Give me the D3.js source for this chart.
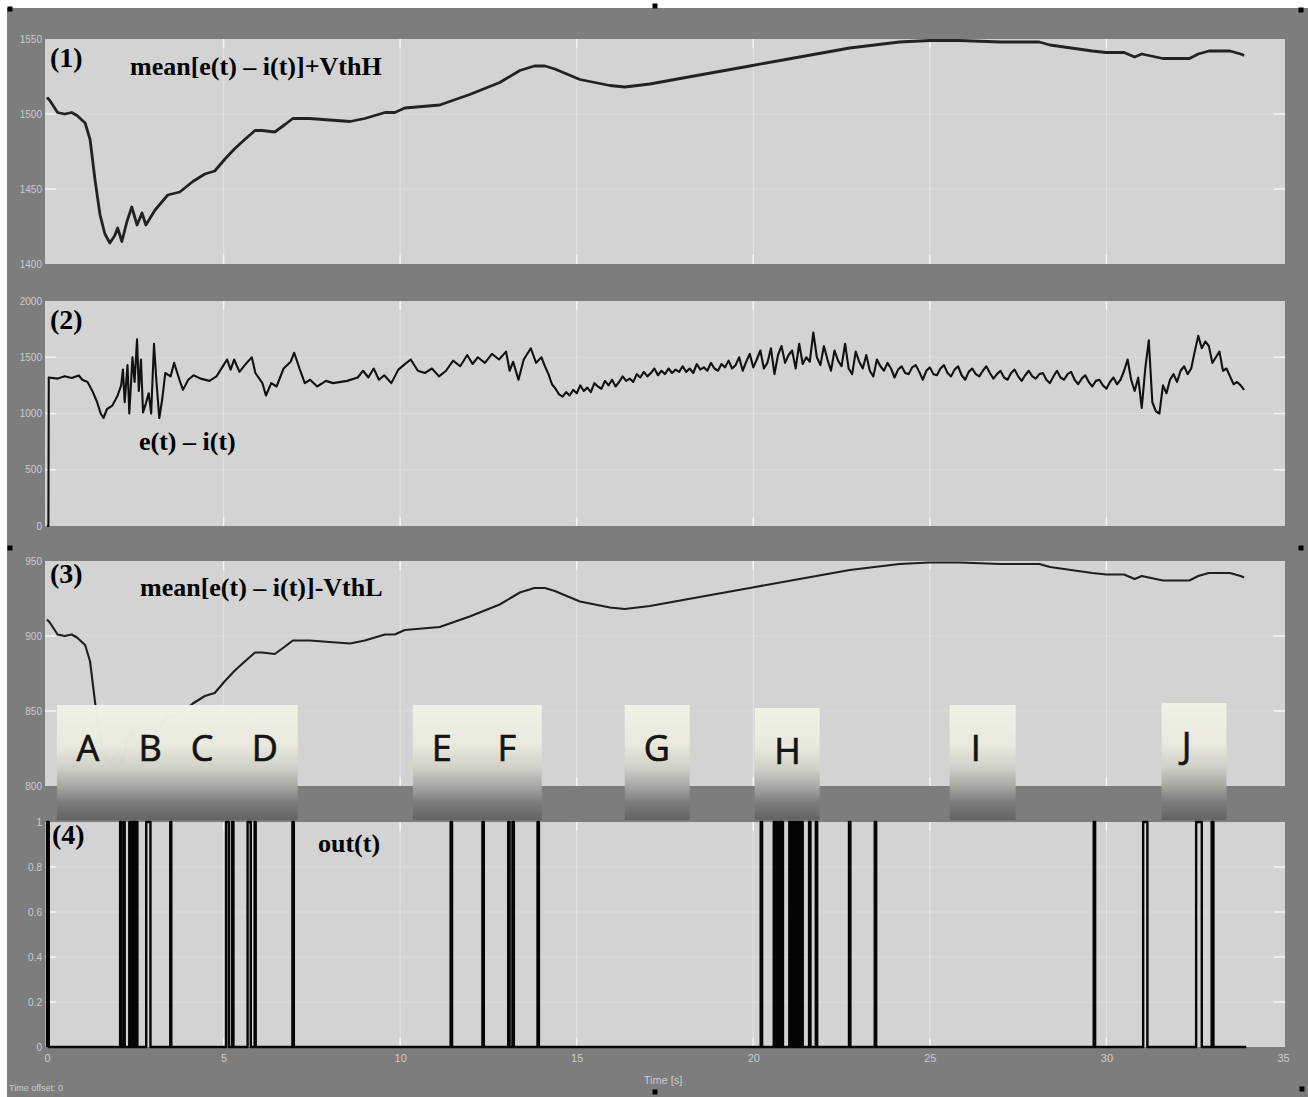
<!DOCTYPE html>
<html>
<head>
<meta charset="utf-8">
<script src="https://cdn.jsdelivr.net/npm/d3@7"></script>
<style>
  body { margin: 0; background: #fff; }
  svg { display: block; }
</style>
</head>
<body>
<div id="chart"></div>
<script>
// time axis ticks (s)
const xTicks = [0, 5, 10, 15, 20, 25, 30, 35];

// thresholds added / removed from the running mean
const VthH = 200;
const VthL = 400;

// mean[e(t) - i(t)]  [t, value]
const meanSeries = [
  [0, 1311], [0.08, 1309], [0.3, 1301], [0.5, 1300], [0.7, 1301], [0.85, 1299],
  [1.08, 1294], [1.22, 1283], [1.36, 1256], [1.5, 1233], [1.64, 1220], [1.78, 1214],
  [1.92, 1219], [2.0, 1224], [2.12, 1215], [2.26, 1228], [2.4, 1238], [2.55, 1226],
  [2.69, 1234], [2.8, 1226], [3.06, 1236], [3.42, 1246], [3.76, 1248], [4.13, 1255],
  [4.47, 1260], [4.75, 1262], [5.04, 1270], [5.32, 1277], [5.6, 1283], [5.89, 1289],
  [6.09, 1289], [6.45, 1288], [6.74, 1293], [6.96, 1297], [7.44, 1297], [8.0, 1296],
  [8.58, 1295], [9.0, 1297], [9.57, 1301], [9.85, 1301], [10.13, 1304], [11.12, 1306],
  [11.97, 1313], [12.82, 1321], [13.39, 1329], [13.8, 1332], [14.1, 1332], [14.38, 1330],
  [15.09, 1323], [15.94, 1319], [16.36, 1318], [17.07, 1320], [18.48, 1326], [19.9, 1332],
  [21.31, 1338], [22.73, 1344], [24.14, 1348], [24.99, 1349], [25.84, 1349], [27.0, 1348],
  [28.1, 1348], [28.4, 1346], [29.0, 1344], [29.6, 1342], [30.0, 1341], [30.5, 1341],
  [30.8, 1338], [31.0, 1340], [31.2, 1339], [31.6, 1337], [32.35, 1337], [32.6, 1340],
  [32.9, 1342], [33.5, 1342], [33.8, 1340], [33.9, 1339]
];

// e(t) - i(t)  [t, value]
const diffSeries = [
  [0, 0], [0.04, 0], [0.05, 1320], [0.3, 1310], [0.5, 1332], [0.7, 1315], [0.9, 1338],
  [1.0, 1300], [1.15, 1280], [1.3, 1190], [1.42, 1100], [1.52, 1000], [1.6, 960],
  [1.7, 1040], [1.85, 1070], [2.0, 1160], [2.1, 1250], [2.15, 1390], [2.2, 1100],
  [2.28, 1430], [2.33, 1000], [2.42, 1500], [2.48, 1280], [2.55, 1660], [2.6, 1200],
  [2.66, 1480], [2.72, 1010], [2.8, 1090], [2.88, 1180], [2.95, 1000], [3.03, 1620],
  [3.1, 1280], [3.18, 960], [3.26, 1120], [3.35, 1360], [3.5, 1330], [3.6, 1450],
  [3.75, 1300], [3.85, 1210], [4.0, 1300], [4.15, 1340], [4.35, 1310], [4.6, 1290],
  [4.8, 1330], [5.0, 1430], [5.1, 1480], [5.2, 1390], [5.3, 1480], [5.45, 1370],
  [5.6, 1430], [5.8, 1500], [5.9, 1360], [6.1, 1270], [6.2, 1160], [6.35, 1270],
  [6.5, 1240], [6.7, 1400], [6.9, 1460], [7.0, 1540], [7.15, 1400], [7.3, 1270],
  [7.45, 1300], [7.65, 1240], [7.9, 1290], [8.1, 1270], [8.5, 1290], [8.8, 1320],
  [8.95, 1380], [9.1, 1320], [9.25, 1400], [9.4, 1300], [9.55, 1340], [9.75, 1270],
  [9.95, 1390], [10.1, 1430], [10.3, 1480], [10.5, 1380], [10.7, 1360], [10.9, 1400],
  [11.1, 1330], [11.3, 1380], [11.5, 1470], [11.7, 1420], [11.9, 1520], [12.05, 1440],
  [12.2, 1500], [12.4, 1450], [12.6, 1530], [12.8, 1480], [13.0, 1550], [13.1, 1380],
  [13.2, 1460], [13.35, 1300], [13.5, 1480], [13.7, 1580], [13.85, 1450], [14.0, 1500],
  [14.1, 1420], [14.2, 1350], [14.3, 1260], [14.4, 1220], [14.5, 1170], [14.6, 1150],
  [14.7, 1190], [14.8, 1160], [14.9, 1210], [15.0, 1180], [15.1, 1250], [15.2, 1200],
  [15.3, 1230], [15.4, 1190], [15.5, 1270], [15.6, 1240], [15.7, 1220], [15.8, 1290],
  [15.9, 1250], [16.0, 1300], [16.1, 1240], [16.2, 1280], [16.3, 1330], [16.4, 1290],
  [16.5, 1310], [16.6, 1280], [16.7, 1350], [16.8, 1320], [16.9, 1370], [17.0, 1330],
  [17.1, 1360], [17.2, 1400], [17.3, 1340], [17.4, 1380], [17.5, 1350], [17.6, 1400],
  [17.7, 1360], [17.8, 1390], [17.9, 1370], [18.0, 1420], [18.1, 1370], [18.2, 1400],
  [18.3, 1360], [18.4, 1440], [18.5, 1390], [18.6, 1410], [18.7, 1380], [18.8, 1450],
  [18.9, 1400], [19.0, 1380], [19.1, 1440], [19.2, 1410], [19.3, 1470], [19.4, 1400],
  [19.5, 1430], [19.6, 1500], [19.7, 1380], [19.8, 1460], [19.9, 1530], [20.0, 1410],
  [20.1, 1480], [20.2, 1560], [20.3, 1400], [20.4, 1450], [20.5, 1580], [20.6, 1350],
  [20.7, 1520], [20.8, 1600], [20.9, 1450], [21.0, 1520], [21.1, 1560], [21.2, 1400],
  [21.3, 1620], [21.4, 1440], [21.5, 1500], [21.6, 1460], [21.7, 1720], [21.8, 1500],
  [21.9, 1430], [22.0, 1600], [22.1, 1480], [22.2, 1380], [22.3, 1560], [22.4, 1470],
  [22.5, 1420], [22.6, 1620], [22.7, 1400], [22.8, 1350], [22.9, 1550], [23.0, 1460],
  [23.1, 1400], [23.2, 1520], [23.3, 1380], [23.4, 1330], [23.5, 1480], [23.6, 1420],
  [23.7, 1380], [23.8, 1450], [23.9, 1400], [24.0, 1320], [24.1, 1390], [24.2, 1420],
  [24.3, 1360], [24.4, 1350], [24.5, 1410], [24.6, 1430], [24.7, 1370], [24.8, 1300],
  [24.9, 1380], [25.0, 1410], [25.1, 1350], [25.2, 1340], [25.3, 1400], [25.4, 1430],
  [25.5, 1360], [25.6, 1330], [25.7, 1390], [25.8, 1420], [25.9, 1340], [26.0, 1300],
  [26.1, 1370], [26.2, 1400], [26.3, 1350], [26.4, 1330], [26.5, 1380], [26.6, 1420],
  [26.7, 1360], [26.8, 1310], [26.9, 1350], [27.0, 1380], [27.1, 1320], [27.2, 1300],
  [27.3, 1360], [27.4, 1390], [27.5, 1330], [27.6, 1290], [27.7, 1340], [27.8, 1380],
  [27.9, 1330], [28.0, 1310], [28.1, 1350], [28.2, 1360], [28.3, 1300], [28.4, 1270],
  [28.5, 1330], [28.6, 1380], [28.7, 1320], [28.8, 1300], [28.9, 1350], [29.0, 1370],
  [29.1, 1300], [29.2, 1260], [29.3, 1310], [29.4, 1340], [29.5, 1280], [29.6, 1240],
  [29.7, 1290], [29.8, 1300], [29.9, 1250], [30.0, 1220], [30.1, 1280], [30.2, 1320],
  [30.3, 1260], [30.4, 1300], [30.5, 1380], [30.6, 1480], [30.7, 1300], [30.8, 1200],
  [30.9, 1320], [31.0, 1050], [31.1, 1400], [31.2, 1650], [31.3, 1100], [31.4, 1020],
  [31.5, 1000], [31.6, 1250], [31.7, 1180], [31.8, 1300], [31.9, 1350], [32.0, 1280],
  [32.1, 1380], [32.2, 1420], [32.3, 1350], [32.4, 1400], [32.5, 1550], [32.6, 1690],
  [32.7, 1580], [32.8, 1640], [32.9, 1600], [33.0, 1450], [33.1, 1500], [33.2, 1550],
  [33.3, 1380], [33.4, 1400], [33.5, 1330], [33.6, 1260], [33.7, 1280], [33.8, 1250],
  [33.9, 1210]
];

// out(t): intervals where the output is 1  [start, end]
const outPulses = [
  [0.0, 0.05],
  [2.07, 2.10], [2.17, 2.20],
  [2.33, 2.36], [2.38, 2.41], [2.43, 2.46], [2.48, 2.51], [2.53, 2.56],
  [2.81, 2.93], [3.49, 3.52],
  [5.07, 5.15], [5.24, 5.28], [5.68, 5.77], [5.88, 5.91], [6.95, 6.99],
  [11.43, 11.47], [12.33, 12.37], [13.06, 13.10], [13.18, 13.22], [13.89, 13.93],
  [20.21, 20.25],
  [20.58, 20.61], [20.64, 20.67], [20.70, 20.73], [20.76, 20.79], [20.81, 20.84],
  [21.02, 21.05], [21.09, 21.12], [21.16, 21.19], [21.23, 21.26], [21.30, 21.33], [21.36, 21.40],
  [21.58, 21.62], [21.77, 21.81], [22.71, 22.75], [23.44, 23.48],
  [29.64, 29.68], [31.04, 31.16], [32.54, 32.70], [32.98, 33.03]
];
const outEnd = 33.96;

// y tick values / labels per panel
const ticks1 = [1400, 1450, 1500, 1550];
const ticks2 = [0, 500, 1000, 1500, 2000];
const ticks3 = [800, 850, 900, 950];
const ticks4 = [0, 0.2, 0.4, 0.6, 0.8, 1];
const ticks4Labels = ['0', '0.2', '0.4', '0.6', '0.8', '1'];

// event markers A..J (box span in s, letter time in s)
const eventBoxes = [[0.28, 7.1], [10.36, 14.01], [16.36, 18.2], [20.04, 21.88], [25.56, 27.43], [31.56, 33.4]];
const eventLetters = ['A', 'B', 'C', 'D', 'E', 'F', 'G', 'H', 'I', 'J'];
const eventTimes = [1.16, 2.92, 4.39, 6.17, 11.18, 13.02, 17.27, 20.97, 26.3, 32.27];

// ---------------------------------------------------------------
const W = 1308, H = 1097;
const plotLeft = 45, plotRight = 1285, panelH = 225;
const axisFont = "'Liberation Sans Narrow', 'Liberation Sans', Arial, sans-serif";
const serif = "'Liberation Serif', 'Times New Roman', serif";

const svg = d3.select('#chart').append('svg')
  .attr('width', W)
  .attr('height', H);

svg.append('rect').attr('width', W).attr('height', H).attr('fill', '#fff');
svg.append('rect')
  .attr('x', 7).attr('y', 8)
  .attr('width', W - 7).attr('height', H - 8)
  .attr('fill', '#7d7d7d');

const defs = svg.append('defs');
const grad = defs.append('linearGradient')
  .attr('id', 'boxGrad')
  .attr('x1', 0).attr('y1', 0).attr('x2', 0).attr('y2', 1);
[[0, '#f1f1e5'], [0.35, '#e9e9dd'], [0.55, '#cfcfc8'], [0.72, '#a3a3a0'], [0.85, '#7c7c7b'], [1, '#636363']]
  .forEach(s => grad.append('stop').attr('offset', s[0]).attr('stop-color', s[1]));

const x = d3.scaleLinear().domain([0, 35]).range([47, 1283]);

const outPoints = [[0, 0]];
outPulses.forEach(([s, e]) => outPoints.push([s, 0], [s, 1], [e, 1], [e, 0]));
outPoints.push([outEnd, 0]);

const panels = [
  { top: 39, domain: [1400, 1550], ticks: ticks1, labels: ticks1.map(String),
    data: meanSeries.map(d => [d[0], d[1] + VthH]), stroke: '#222', width: 2.8 },
  { top: 301, domain: [0, 2000], ticks: ticks2, labels: ticks2.map(String),
    data: diffSeries, stroke: '#111', width: 2.1 },
  { top: 561, domain: [800, 950], ticks: ticks3, labels: ticks3.map(String),
    data: meanSeries.map(d => [d[0], d[1] - VthL]), stroke: '#1e1e1e', width: 2.1 },
  { top: 822, domain: [0, 1], ticks: ticks4, labels: ticks4Labels,
    data: outPoints, stroke: '#050505', width: 2.4 }
];

panels.forEach((p, i) => {
  const g = svg.append('g').attr('class', 'panel' + (i + 1));
  const bottom = p.top + panelH;
  const y = d3.scaleLinear().domain(p.domain).range([bottom, p.top]);

  g.append('rect')
    .attr('x', plotLeft).attr('y', p.top)
    .attr('width', plotRight - plotLeft).attr('height', panelH)
    .attr('fill', '#d3d3d3');

  // faint grid
  g.selectAll('.vgrid')
    .data(xTicks.slice(1, -1))
    .join('line')
    .attr('x1', d => x(d)).attr('x2', d => x(d))
    .attr('y1', p.top).attr('y2', bottom)
    .attr('stroke', '#eeeeee').attr('stroke-width', 1.2).attr('opacity', 0.55);
  g.selectAll('.hgrid')
    .data(p.ticks.slice(1, -1))
    .join('line')
    .attr('x1', plotLeft).attr('x2', plotRight)
    .attr('y1', d => y(d)).attr('y2', d => y(d))
    .attr('stroke', '#eeeeee').attr('stroke-width', 1).attr('opacity', 0.35);

  // small inner ticks
  g.selectAll('.ltick')
    .data(p.ticks.slice(1, -1))
    .join('line')
    .attr('x1', plotLeft).attr('x2', plotLeft + 11)
    .attr('y1', d => y(d)).attr('y2', d => y(d))
    .attr('stroke', '#f4f4f4').attr('stroke-width', 1.5);
  g.selectAll('.rtick')
    .data(p.ticks.slice(1, -1))
    .join('line')
    .attr('x1', plotRight - 11).attr('x2', plotRight)
    .attr('y1', d => y(d)).attr('y2', d => y(d))
    .attr('stroke', '#f4f4f4').attr('stroke-width', 1.5);
  g.selectAll('.ttick')
    .data(xTicks.slice(1, -1))
    .join('line')
    .attr('x1', d => x(d)).attr('x2', d => x(d))
    .attr('y1', p.top).attr('y2', p.top + 9)
    .attr('stroke', '#f4f4f4').attr('stroke-width', 1.5);
  g.selectAll('.btick')
    .data(xTicks.slice(1, -1))
    .join('line')
    .attr('x1', d => x(d)).attr('x2', d => x(d))
    .attr('y1', bottom - 9).attr('y2', bottom)
    .attr('stroke', '#f4f4f4').attr('stroke-width', 1.5);

  // y axis labels
  const ax = g.append('g')
    .attr('transform', `translate(${plotLeft - 2},0)`)
    .call(d3.axisLeft(y).tickValues(p.ticks).tickFormat((d, k) => p.labels[k]).tickSize(0).tickPadding(1));
  ax.select('.domain').remove();
  ax.selectAll('text')
    .attr('fill', '#cbcbcb')
    .style('font-family', axisFont)
    .style('font-size', '10px');

  const line = d3.line()
    .x(d => x(d[0]))
    .y(d => y(d[1]));

  g.append('path')
    .datum(p.data)
    .attr('fill', 'none')
    .attr('stroke', p.stroke)
    .attr('stroke-width', p.width)
    .attr('stroke-linejoin', 'round')
    .attr('d', line);
});

// x axis (bottom panel only)
const xAxis = svg.append('g')
  .attr('transform', `translate(0,${822 + panelH})`)
  .call(d3.axisBottom(x).tickValues(xTicks).tickSize(0).tickPadding(7));
xAxis.select('.domain').remove();
xAxis.selectAll('text')
  .attr('fill', '#cbcbcb')
  .style('font-family', axisFont)
  .style('font-size', '11px');

svg.append('text')
  .attr('x', x(17.5) - 2).attr('y', 1084)
  .attr('text-anchor', 'middle')
  .attr('fill', '#cbcbcb')
  .style('font-family', axisFont)
  .style('font-size', '11px')
  .text('Time [s]');

svg.append('text')
  .attr('x', 9).attr('y', 1091)
  .attr('fill', '#cbcbcb')
  .style('font-family', axisFont)
  .style('font-size', '9px')
  .text('Time offset:  0');

// event boxes with letters
svg.append('g').selectAll('rect')
  .data(eventBoxes)
  .join('rect')
  .attr('x', d => x(d[0]))
  .attr('y', (d, i) => i === 3 ? 708 : (i === 5 ? 703 : 705))
  .attr('width', d => x(d[1]) - x(d[0]))
  .attr('height', (d, i) => i === 3 ? 112 : (i === 5 ? 117 : 115))
  .attr('fill', 'url(#boxGrad)')
  .attr('opacity', 0.985);

svg.append('g').selectAll('text')
  .data(eventLetters)
  .join('text')
  .attr('x', (d, i) => x(eventTimes[i]))
  .attr('y', (d, i) => d === 'H' ? 764 : (d === 'J' ? 758 : 761))
  .attr('text-anchor', 'middle')
  .attr('fill', '#141414')
  .attr('stroke', '#141414')
  .attr('stroke-width', 0.7)
  .style('font-family', "'Open Sans', 'DejaVu Sans', sans-serif")
  .style('font-size', '36px')
  .text(d => d);

// panel annotations
const notes = [
  { t: '(1)', x: 50, y: 67, s: 28 },
  { t: 'mean[e(t) \u2013 i(t)]+VthH', x: 130, y: 75, s: 26 },
  { t: '(2)', x: 50, y: 329, s: 28 },
  { t: 'e(t) \u2013 i(t)', x: 139, y: 450, s: 26 },
  { t: '(3)', x: 50, y: 583, s: 28 },
  { t: 'mean[e(t) \u2013 i(t)]-VthL', x: 140, y: 596, s: 26 },
  { t: '(4)', x: 52, y: 844, s: 28 },
  { t: 'out(t)', x: 318, y: 852, s: 26 }
];
svg.append('g').selectAll('text')
  .data(notes)
  .join('text')
  .attr('x', d => d.x).attr('y', d => d.y)
  .attr('fill', '#000')
  .style('font-family', serif)
  .style('font-weight', 'bold')
  .style('font-size', d => d.s + 'px')
  .text(d => d.t);

// figure handles
svg.append('g').selectAll('rect')
  .data([[10, 9], [655, 6], [1301, 10], [10, 548], [1301, 548], [655, 1092], [1302, 1089]])
  .join('rect')
  .attr('x', d => d[0] - 2.5).attr('y', d => d[1] - 2.5)
  .attr('width', 5).attr('height', 5)
  .attr('fill', '#000');
</script>
</body>
</html>
